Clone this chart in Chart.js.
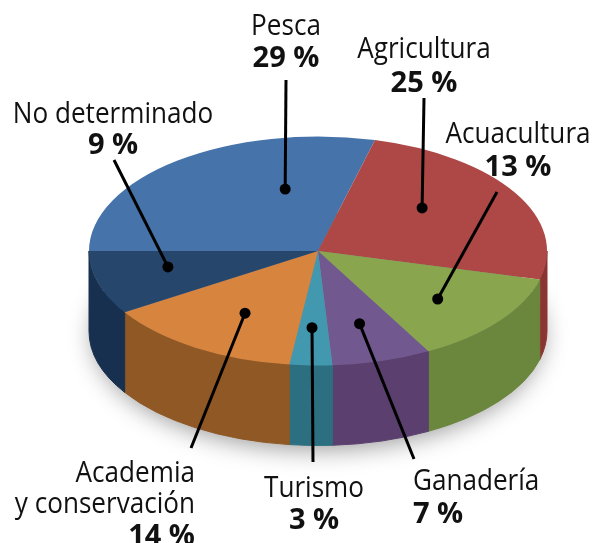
<!DOCTYPE html>
<html>
<head>
    <meta charset="utf-8"/>
    <title>Sectores</title>
    <script src="https://cdn.jsdelivr.net/npm/chart.js@4.4.1/dist/chart.umd.min.js"></script>
    <style>
        html, body { margin: 0; padding: 0; background: #fff; }
        .chart-container { position: relative; width: 599px; height: 543px; }
    </style>
</head>
<body>
    <div class="chart-container">
        <canvas id="myChart"></canvas>
    </div>
    <script>
        const categories = ['Pesca', 'Agricultura', 'Acuacultura', 'Ganadería', 'Turismo', 'Academia\ny conservación', 'No determinado'];
        const shares = [29, 25, 13, 7, 3, 14, 9];
        const topColors = ['#4673a9', '#ad4847', '#89a54e', '#71588f', '#4198af', '#d7843f', '#27466c'];
        const sideColors = ['#2f5178', '#8b3432', '#6a873d', '#5a3f6f', '#2b6f80', '#8f5825', '#183050'];

        // 3d look
        const tilt = 0.5;       // squash of the top face
        const depth = 80;       // height of the side wall
        const pieCenterY = 251; // where the top face sits on screen

        // label placement: text anchor (first baseline), line gap, where the leader
        // line ends, and where the dot sits (fraction of slice angle, fraction of radius)
        const labelLayout = [
            { x: 286, y: 35,  gap: 31, align: 'center', end: [286, 80],  dot: [0.72, 0.56] },
            { x: 424, y: 58,  gap: 33, align: 'center', end: [424, 98],  dot: [0.40, 0.59] },
            { x: 518, y: 143, gap: 32, align: 'center', end: [497, 192], dot: [0.52, 0.67] },
            { x: 413, y: 490, gap: 32, align: 'left',   end: [414, 459], dot: [0.51, 0.66] },
            { x: 314, y: 497, gap: 31, align: 'center', end: [313, 462], dot: [0.54, 0.67] },
            { x: 195, y: 482, gap: 31, align: 'right',  end: [191, 448], dot: [0.46, 0.63] },
            { x: 113, y: 123, gap: 30, align: 'center', end: [114, 160], dot: [0.63, 0.67] },
        ];

        function pieGeometry(chart) {
            const arcs = chart.getDatasetMeta(0).data;
            const p = arcs[0].getProps(['x', 'y', 'outerRadius'], true);
            return { arcs, cx: p.x, cy: p.y, R: p.outerRadius, top: pieCenterY };
        }

        const pie3d = {
            id: 'pie3d',
            beforeDatasetsDraw(chart) {
                const ctx = chart.ctx;
                const { arcs, cx, cy, R, top } = pieGeometry(chart);
                const ry = R * tilt;

                // soft shadow under the pie
                ctx.save();
                ctx.beginPath();
                ctx.ellipse(cx, top + depth - 4, R - 4, ry, 0, 0, 2 * Math.PI);
                ctx.shadowColor = 'rgba(0,0,0,0.4)';
                ctx.shadowBlur = 24;
                ctx.shadowOffsetY = 8;
                ctx.fillStyle = '#888';
                ctx.fill();
                ctx.restore();

                // side walls, only the front half is visible
                arcs.forEach((arc, i) => {
                    const { startAngle, endAngle } = arc.getProps(['startAngle', 'endAngle'], true);
                    for (const base of [-2 * Math.PI, 0, 2 * Math.PI]) {
                        const a1 = Math.max(startAngle, base);
                        const a2 = Math.min(endAngle, base + Math.PI);
                        if (a2 <= a1) continue;
                        ctx.beginPath();
                        ctx.ellipse(cx, top, R, ry, 0, a1, a2);
                        ctx.ellipse(cx, top + depth, R, ry, 0, a2, a1, true);
                        ctx.closePath();
                        ctx.fillStyle = sideColors[i];
                        ctx.fill();
                        ctx.strokeStyle = sideColors[i];
                        ctx.lineWidth = 1;
                        ctx.stroke();
                    }
                });

                // squash the top face into an ellipse
                ctx.save();
                ctx.translate(0, top);
                ctx.scale(1, tilt);
                ctx.translate(0, -cy);
            },
            afterDatasetsDraw(chart) {
                chart.ctx.restore();
            },
            afterDraw(chart) {
                const ctx = chart.ctx;
                const { arcs, cx, R, top } = pieGeometry(chart);
                ctx.save();
                arcs.forEach((arc, i) => {
                    const L = labelLayout[i];
                    const { startAngle, endAngle } = arc.getProps(['startAngle', 'endAngle'], true);
                    const a = startAngle + (endAngle - startAngle) * L.dot[0];
                    const r = R * L.dot[1];
                    const px = cx + r * Math.cos(a);
                    const py = top + r * tilt * Math.sin(a);

                    ctx.strokeStyle = '#000';
                    ctx.lineWidth = 3;
                    ctx.beginPath();
                    ctx.moveTo(L.end[0], L.end[1]);
                    ctx.lineTo(px, py);
                    ctx.stroke();
                    ctx.fillStyle = '#000';
                    ctx.beginPath();
                    ctx.arc(px, py, 5.5, 0, 2 * Math.PI);
                    ctx.fill();

                    ctx.fillStyle = '#111';
                    ctx.textAlign = L.align;
                    ctx.textBaseline = 'alphabetic';
                    const lines = categories[i].split('\n');
                    lines.forEach((txt, j) => {
                        ctx.save();
                        ctx.translate(L.x, L.y + j * L.gap);
                        ctx.scale(0.87, 1); // narrower, closer to the original face
                        ctx.font = '30px "Open Sans"';
                        ctx.fillText(txt, 0, 0);
                        ctx.restore();
                    });
                    ctx.font = 'bold 29px "Open Sans"';
                    ctx.fillText(shares[i] + ' %', L.x, L.y + lines.length * L.gap + 1);
                });
                ctx.restore();
            }
        };

        const ctx = document.getElementById('myChart').getContext('2d');
        const myChart = new Chart(ctx, {
            type: 'pie',
            data: {
                labels: categories,
                datasets: [{
                    data: shares,
                    backgroundColor: topColors,
                    borderWidth: 0,
                }]
            },
            options: {
                responsive: true,
                maintainAspectRatio: false,
                animation: false,
                events: [],
                rotation: 270,
                layout: { padding: { left: 89, right: 52, top: 0, bottom: 0 } },
                plugins: {
                    legend: { display: false },
                    tooltip: { enabled: false },
                }
            },
            plugins: [pie3d]
        });
    </script>
</body>
</html>
